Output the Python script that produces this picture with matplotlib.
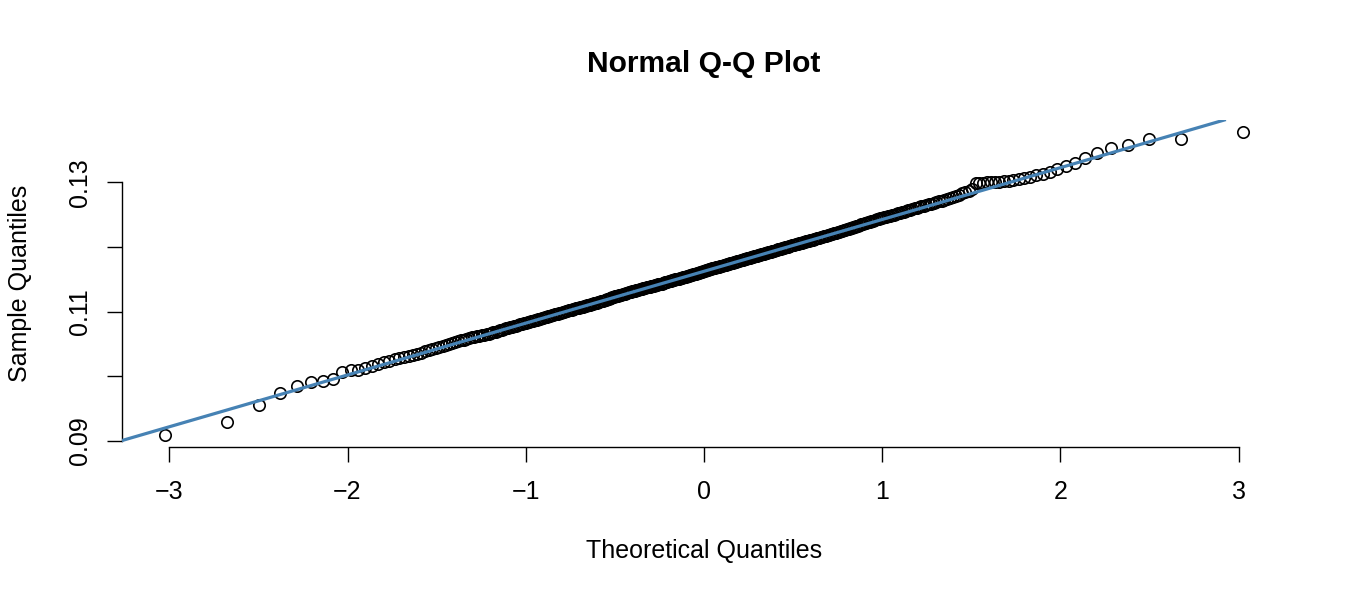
from statistics import NormalDist

import matplotlib
matplotlib.use('Agg')
import matplotlib.pyplot as plt
import numpy as np

plt.rcParams['font.family'] = ['Liberation Sans', 'DejaVu Sans']

TITLE = 'Normal Q-Q Plot'
X_LABEL = 'Theoretical Quantiles'
Y_LABEL = 'Sample Quantiles'

# sample values, n = 400
sample = [
    0.09090, 0.09295, 0.09547, 0.09740, 0.09853, 0.09904, 0.09930, 0.09960, 0.10060, 0.10090,
    0.10099, 0.10130, 0.10160, 0.10187, 0.10213, 0.10238, 0.10261, 0.10283, 0.10289, 0.10309,
    0.10328, 0.10346, 0.10364, 0.10382, 0.10399, 0.10415, 0.10430, 0.10446, 0.10461, 0.10486,
    0.10499, 0.10514, 0.10527, 0.10540, 0.10553, 0.10566, 0.10578, 0.10590, 0.10602, 0.10614,
    0.10620, 0.10626, 0.10632, 0.10638, 0.10648, 0.10659, 0.10669, 0.10679, 0.10690, 0.10699,
    0.10710, 0.10719, 0.10729, 0.10738, 0.10747, 0.10756, 0.10765, 0.10774, 0.10783, 0.10791,
    0.10800, 0.10809, 0.10817, 0.10826, 0.10834, 0.10842, 0.10850, 0.10858, 0.10866, 0.10874,
    0.10881, 0.10889, 0.10897, 0.10904, 0.10911, 0.10919, 0.10926, 0.10933, 0.10940, 0.10947,
    0.10955, 0.10962, 0.10969, 0.10976, 0.10983, 0.10991, 0.10997, 0.11004, 0.11011, 0.11017,
    0.11024, 0.11031, 0.11037, 0.11043, 0.11051, 0.11057, 0.11060, 0.11065, 0.11071, 0.11078,
    0.11084, 0.11090, 0.11096, 0.11102, 0.11109, 0.11114, 0.11121, 0.11126, 0.11133, 0.11138,
    0.11145, 0.11150, 0.11157, 0.11162, 0.11169, 0.11174, 0.11183, 0.11190, 0.11198, 0.11206,
    0.11213, 0.11221, 0.11229, 0.11235, 0.11241, 0.11246, 0.11252, 0.11257, 0.11263, 0.11269,
    0.11274, 0.11280, 0.11285, 0.11291, 0.11297, 0.11302, 0.11308, 0.11313, 0.11319, 0.11325,
    0.11329, 0.11335, 0.11341, 0.11346, 0.11351, 0.11357, 0.11361, 0.11367, 0.11371, 0.11375,
    0.11380, 0.11385, 0.11388, 0.11393, 0.11397, 0.11401, 0.11405, 0.11410, 0.11415, 0.11420,
    0.11425, 0.11430, 0.11435, 0.11440, 0.11445, 0.11451, 0.11455, 0.11461, 0.11466, 0.11471,
    0.11476, 0.11482, 0.11487, 0.11491, 0.11497, 0.11502, 0.11507, 0.11511, 0.11517, 0.11522,
    0.11527, 0.11532, 0.11537, 0.11543, 0.11547, 0.11552, 0.11557, 0.11563, 0.11567, 0.11572,
    0.11577, 0.11583, 0.11587, 0.11592, 0.11597, 0.11603, 0.11607, 0.11612, 0.11618, 0.11623,
    0.11632, 0.11637, 0.11643, 0.11648, 0.11652, 0.11658, 0.11663, 0.11668, 0.11672, 0.11678,
    0.11683, 0.11688, 0.11692, 0.11698, 0.11703, 0.11708, 0.11712, 0.11718, 0.11723, 0.11728,
    0.11733, 0.11738, 0.11744, 0.11748, 0.11753, 0.11758, 0.11764, 0.11768, 0.11773, 0.11779,
    0.11784, 0.11789, 0.11794, 0.11800, 0.11804, 0.11810, 0.11815, 0.11820, 0.11825, 0.11830,
    0.11835, 0.11840, 0.11845, 0.11851, 0.11856, 0.11861, 0.11866, 0.11872, 0.11876, 0.11882,
    0.11888, 0.11893, 0.11898, 0.11904, 0.11908, 0.11914, 0.11919, 0.11924, 0.11930, 0.11936,
    0.11940, 0.11946, 0.11952, 0.11957, 0.11963, 0.11968, 0.11974, 0.11980, 0.11985, 0.11991,
    0.11996, 0.12002, 0.12008, 0.12013, 0.12019, 0.12024, 0.12030, 0.12036, 0.12041, 0.12047,
    0.12052, 0.12058, 0.12064, 0.12069, 0.12076, 0.12081, 0.12088, 0.12093, 0.12100, 0.12105,
    0.12110, 0.12115, 0.12122, 0.12127, 0.12134, 0.12139, 0.12146, 0.12152, 0.12158, 0.12164,
    0.12170, 0.12177, 0.12183, 0.12190, 0.12196, 0.12202, 0.12210, 0.12216, 0.12222, 0.12229,
    0.12237, 0.12244, 0.12252, 0.12260, 0.12267, 0.12276, 0.12284, 0.12292, 0.12300, 0.12308,
    0.12317, 0.12325, 0.12333, 0.12341, 0.12349, 0.12358, 0.12366, 0.12374, 0.12383, 0.12392,
    0.12400, 0.12409, 0.12417, 0.12427, 0.12435, 0.12443, 0.12451, 0.12460, 0.12468, 0.12477,
    0.12486, 0.12494, 0.12503, 0.12512, 0.12521, 0.12530, 0.12539, 0.12548, 0.12558, 0.12567,
    0.12578, 0.12587, 0.12598, 0.12608, 0.12618, 0.12629, 0.12639, 0.12650, 0.12661, 0.12672,
    0.12683, 0.12695, 0.12707, 0.12719, 0.12731, 0.12744, 0.12757, 0.12770, 0.12783, 0.12801,
    0.12830, 0.12845, 0.12870, 0.12900, 0.12985, 0.12992, 0.12996, 0.13000, 0.13004, 0.13008,
    0.13012, 0.13020, 0.13030, 0.13042, 0.13055, 0.13072, 0.13092, 0.13112, 0.13135, 0.13165,
    0.13202, 0.13260, 0.13300, 0.13383, 0.13460, 0.13532, 0.13580, 0.13675, 0.13680, 0.13780,
]

x_ticks = [-3, -2, -1, 0, 1, 2, 3]
y_ticks = [0.09, 0.10, 0.11, 0.12, 0.13]
y_tick_labels = ['0.09', '', '0.11', '', '0.13']

y = np.sort(np.array(sample))
n = len(y)
# ppoints(n) for n > 10, then normal quantiles
p = (np.arange(1, n + 1) - 0.5) / n
x = np.array([NormalDist().inv_cdf(v) for v in p])

# qqline through first and third quartiles
qy = np.quantile(y, [0.25, 0.75])
qx = np.array([NormalDist().inv_cdf(v) for v in (0.25, 0.75)])
slope = (qy[1] - qy[0]) / (qx[1] - qx[0])
intercept = qy[0] - slope * qx[0]

W, H = 1350, 600
fig = plt.figure(figsize=(W / 100, H / 100), dpi=100)
ax = fig.add_axes([122 / W, 153 / H, 1164 / W, 327 / H])

ax.plot(x, y, 'o', mfc='none', mec='black', ms=8.2, mew=1.2, zorder=2)
ax.axline((0, intercept), slope=slope, color='#4682B4', lw=2.3, zorder=3)

# R style 4% padding
xr = x.max() - x.min()
yr = y.max() - y.min()
ax.set_xlim(x.min() - 0.04 * xr, x.max() + 0.04 * xr)
ax.set_ylim(y.min() - 0.04 * yr, y.max() + 0.04 * yr)

ax.set_xticks(x_ticks)
ax.set_xticklabels([str(t) if t >= 0 else '\u2212' + str(-t) for t in x_ticks])
ax.set_yticks(y_ticks)
ax.set_yticklabels(y_tick_labels, rotation=90, va='center')
ax.tick_params(direction='out', length=10.5, width=1.0, labelsize=18)
ax.tick_params(axis='x', pad=13)
ax.tick_params(axis='y', pad=11)

for side in ['top', 'right']:
    ax.spines[side].set_visible(False)
ax.spines['left'].set_bounds(y_ticks[0], y_ticks[-1])
ax.spines['bottom'].set_bounds(x_ticks[0], x_ticks[-1])
ax.spines['left'].set_linewidth(1.0)
ax.spines['bottom'].set_linewidth(1.0)

ax.set_title(TITLE, fontsize=21.6, fontweight='bold', y=1.17, pad=0, va='center')
ax.set_xlabel(X_LABEL, fontsize=18, va='center')
ax.xaxis.set_label_coords(0.5, -0.318)
ax.set_ylabel(Y_LABEL, fontsize=18, va='center')
ax.yaxis.set_label_coords(-0.088, 0.5)

fig.savefig('out.png', dpi=100)
